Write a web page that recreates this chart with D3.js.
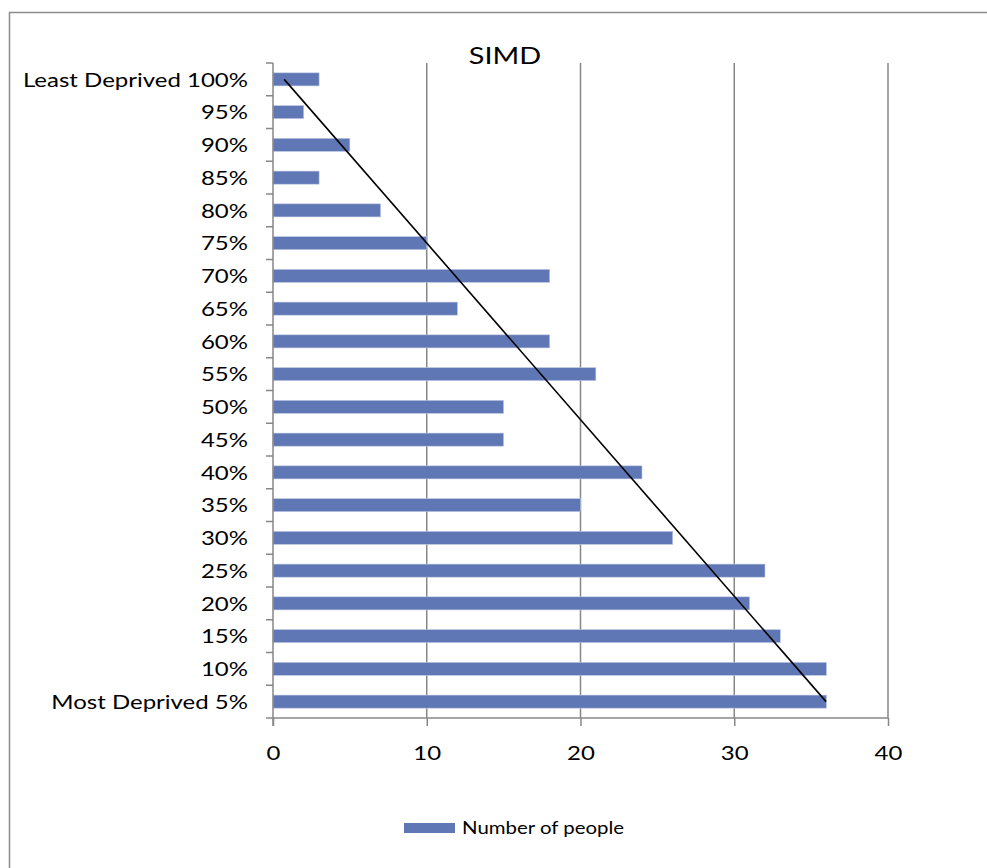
<!DOCTYPE html>
<html>
<head>
<meta charset="utf-8">
<script src="https://cdn.jsdelivr.net/npm/d3@7"></script>
<style>
  html, body { margin: 0; padding: 0; background: #fff; }
  svg { display: block; }
  text { font-family: Lato, "Open Sans", sans-serif; fill: #000; }
</style>
</head>
<body>
<div id="chart"></div>
<script>
// SIMD decile categories, bottom (most deprived) to top (least deprived)
const categories = ["Most Deprived 5%", "10%", "15%", "20%", "25%", "30%", "35%", "40%", "45%", "50%",
                    "55%", "60%", "65%", "70%", "75%", "80%", "85%", "90%", "95%", "Least Deprived 100%"];
const peopleCounts = [36, 36, 33, 31, 32, 26, 20, 24, 15, 15, 21, 18, 12, 18, 10, 7, 3, 5, 2, 3];
const xTicks = [0, 10, 20, 30, 40];
const chartTitle = "SIMD";
const seriesName = "Number of people";

const W = 987, H = 868;
const plot = { left: 273, right: 888, top: 63, bottom: 718 };
const barColor = "#6077b5";
const gridColor = "#878787";
const stretch = 1.2; // widen glyphs horizontally

const svg = d3.select("#chart").append("svg").attr("width", W).attr("height", H);

// place a horizontally widened text at (px, py)
function wideText(sel, px, py) {
  return sel.attr("x", 0).attr("y", 0)
    .attr("transform", `translate(${px},${py}) scale(${stretch},1)`);
}

// outer chart frame (extends past the page edges)
svg.append("rect")
  .attr("x", 9.5).attr("y", 12.5).attr("width", 1100).attr("height", 1000)
  .attr("fill", "none").attr("stroke", "#8c8c8c").attr("stroke-width", 1.5);

const x = d3.scaleLinear().domain([0, 40]).range([plot.left, plot.right]);
// first category sits at the bottom
const y = d3.scaleBand().domain(categories).range([plot.bottom, plot.top]).paddingInner(0.6).paddingOuter(0.3);
const yBand = d3.scaleBand().domain(categories).range([plot.bottom, plot.top]);

// vertical gridlines
svg.append("g").selectAll("line").data(xTicks.slice(1)).join("line")
  .attr("x1", d => x(d)).attr("x2", d => x(d))
  .attr("y1", plot.top).attr("y2", plot.bottom)
  .attr("stroke", gridColor).attr("stroke-width", 1.5);

// bars
svg.append("g").selectAll("rect").data(categories).join("rect")
  .attr("x", x(0))
  .attr("y", d => y(d))
  .attr("width", (d, i) => x(peopleCounts[i]) - x(0))
  .attr("height", y.bandwidth())
  .attr("fill", barColor)
  .attr("stroke", "#c3cce6").attr("stroke-width", 0.6);

// x axis
const xAxis = svg.append("g").attr("transform", `translate(0,${plot.bottom})`)
  .call(d3.axisBottom(x).tickValues(xTicks).tickSize(8).tickPadding(20));
xAxis.select(".domain").attr("stroke", gridColor).attr("stroke-width", 1.5)
  .attr("d", `M${plot.left},0H${plot.right}`);
xAxis.selectAll(".tick line").attr("stroke", gridColor).attr("stroke-width", 1.5);
xAxis.selectAll(".tick text").attr("font-size", 20).attr("font-family", "Lato, sans-serif").attr("fill", "#000")
  .attr("transform", `scale(${stretch},1)`);

// y axis: ticks sit on the band boundaries
const yAxisG = svg.append("g").attr("transform", `translate(${plot.left},0)`);
yAxisG.append("line").attr("x1", 0).attr("x2", 0).attr("y1", plot.top).attr("y2", plot.bottom + 8)
  .attr("stroke", gridColor).attr("stroke-width", 1.5);
const boundaries = categories.map(c => yBand(c)).concat([plot.bottom]);
yAxisG.selectAll("line.tk").data(boundaries).join("line").attr("class", "tk")
  .attr("x1", -7).attr("x2", 0).attr("y1", d => d).attr("y2", d => d)
  .attr("stroke", gridColor).attr("stroke-width", 1.5);
yAxisG.selectAll("text").data(categories).join("text")
  .each(function (d) { wideText(d3.select(this), -25, yBand(d) + yBand.bandwidth() / 2); })
  .attr("dy", "0.36em")
  .attr("text-anchor", "end")
  .attr("font-size", 20)
  .text(d => d);

// linear trendline fitted over category index
const n = peopleCounts.length;
const idx = d3.range(1, n + 1);
const mx = d3.mean(idx), my = d3.mean(peopleCounts);
const slope = d3.sum(idx, (k, i) => (k - mx) * (peopleCounts[i] - my)) / d3.sum(idx, k => (k - mx) ** 2);
const fit = k => my + slope * (k - mx);
const center = c => yBand(c) + yBand.bandwidth() / 2;
svg.append("line")
  .attr("x1", x(fit(1))).attr("y1", center(categories[0]))
  .attr("x2", x(fit(n))).attr("y2", center(categories[n - 1]))
  .attr("stroke", "#000").attr("stroke-width", 1.6);

// title
wideText(svg.append("text"), 505, 64).attr("text-anchor", "middle")
  .attr("font-size", 24).text(chartTitle);

// legend
const lg = svg.append("g").attr("transform", "translate(404,823)");
lg.append("rect").attr("width", 51).attr("height", 10).attr("fill", barColor);
wideText(lg.append("text"), 58, 5).attr("dy", "0.36em").attr("font-size", 17).text(seriesName);
</script>
</body>
</html>
